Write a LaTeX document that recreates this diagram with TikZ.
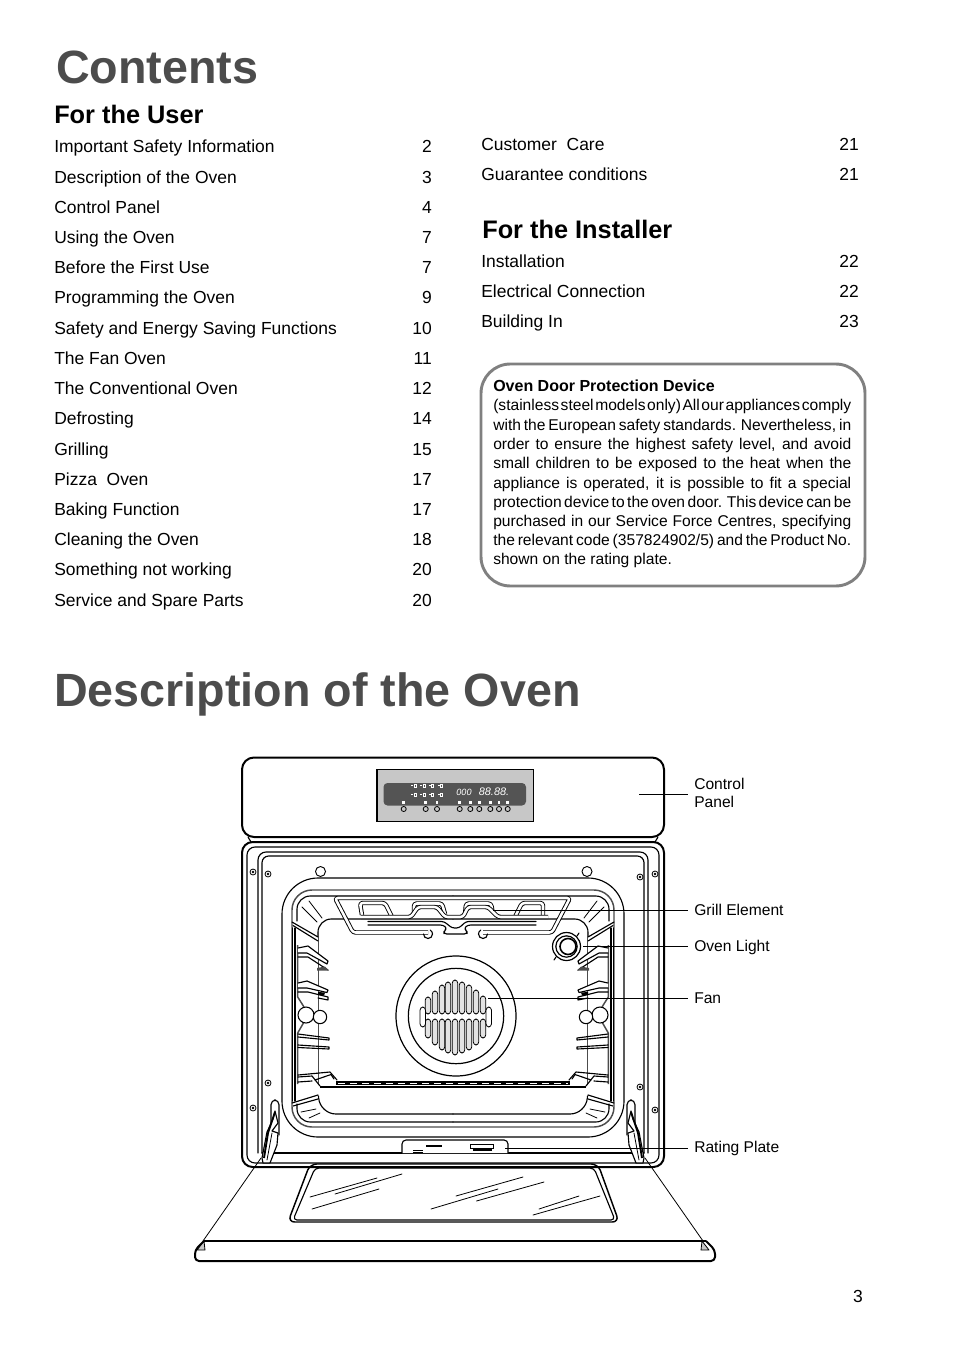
\documentclass[tikz,border=0pt]{standalone}
\usepackage{fontspec}
\usepackage{tikz}
\setmainfont{Liberation Sans}
\definecolor{mgray}{rgb}{0.3, 0.3, 0.3}
\definecolor{mframe}{rgb}{0.5, 0.5, 0.5}
\definecolor{mpanel}{rgb}{0.78, 0.78, 0.78}
\definecolor{mdark}{rgb}{0.33, 0.33, 0.33}
\newcommand{\boxline}[1]{\hbox to 268.5pt{\spaceskip=.22em plus 1fil minus .2em #1}}
\tikzset{title/.style = {anchor = base west, inner sep = 0, text = mgray, font = \fontsize{35}{40}\bfseries\selectfont}}
\tikzset{head/.style = {anchor = base west, inner sep = 0, font = \fontsize{19}{23}\bfseries\selectfont}}
\tikzset{toc/.style = {anchor = base west, inner sep = 0, font = \fontsize{13.1}{16}\selectfont}}
\tikzset{pg/.style = {anchor = base east, inner sep = 0, font = \fontsize{13.1}{16}\selectfont}}
\tikzset{boxtext/.style = {anchor = base west, inner sep = 0, font = \fontsize{11.7}{14}\selectfont}}
\tikzset{lab/.style = {anchor = west, inner xsep = 4.5pt, inner ysep = 0, text height = 8.5pt, text depth = 0pt, align = left, font = \fontsize{11.7}{13.6}\selectfont}}
\tikzset{leader/.style = {line width = 0.7pt}}
\tikzset{ln/.style = {line width = 0.85pt, line join = round, line cap = round}}
\tikzset{thin ln/.style = {line width = 0.6pt, line join = round, line cap = round}}
\tikzset{heavy/.style = {line width = 1.5pt, line join = round}}
\tikzset{tube/.style = {line width = 0.7pt, double, double distance = 1.9pt, line join = round, rounded corners = 2}}
\tikzset{screw/.style = {circle, draw, line width = 0.6pt, inner sep = 0, minimum size = 4.5pt, path picture = {\fill (path picture bounding box.center) circle (1pt);}}}
\tikzset{peg/.style = {circle, draw, line width = 0.7pt, fill = white, inner sep = 0, minimum size = 7.5pt}}
\tikzset{knob/.style = {circle, draw, line width = 0.6pt, fill = mpanel, inner sep = 0, minimum size = 3.8pt}}
\begin{document}
\begin{tikzpicture}[x = 0.75pt, y = -0.75pt]
  \useasboundingbox (0, 0) rectangle (954, 1351);

  \node (contents) [title] at (56, 84) {Contents};
  \node (foruser) [head] at (54, 124) {For the User};
  \node (description) [title] at (54, 706) {Description of the Oven};
  \node (forinstaller) [head] at (482, 239) {For the Installer};

  \foreach \n/\y/\txt/\num in {1/153/Important Safety Information/2, 2/184/Description of the Oven/3,
      3/214/Control Panel/4, 4/244/Using the Oven/7, 5/274/Before the First Use/7,
      6/304/Programming the Oven/9, 7/335/Safety and Energy Saving Functions/10, 8/364/The Fan Oven/11,
      9/394/The Conventional Oven/12, 10/424/Defrosting/14, 11/455/Grilling/15, 12/485/Pizza\ \ Oven/17,
      13/515/Baking Function/17, 14/545/Cleaning the Oven/18, 15/575/Something not working/20,
      16/606/Service and Spare Parts/20} {
    \node (user\n) [toc] at (54, \y) {\txt};
    \node (userpg\n) [pg] at (432, \y) {\num};
  }
  \foreach \n/\y/\txt/\num in {1/151/Customer\ \ Care/21, 2/181/Guarantee conditions/21,
      3/268/Installation/22, 4/298/Electrical Connection/22, 5/328/Building In/23} {
    \node (inst\n) [toc] at (481, \y) {\txt};
    \node (instpg\n) [pg] at (859, \y) {\num};
  }

  \draw [mframe, line width = 2.2pt, rounded corners = 22] (481, 364) rectangle (865, 586);
  \node (boxhead) [boxtext] at (493, 392) {\bfseries\fontsize{12}{14}\selectfont Oven Door Protection Device};
  \foreach \n/\y/\txt in {1/410/{(stainless steel models only) All our appliances comply},
      2/430/{with the European safety standards. Nevertheless, in},
      3/449/{order to ensure the highest safety level, and avoid},
      4/468/{small children to be exposed to the heat when the},
      5/488/{appliance is operated, it is possible to fit a special},
      6/507/{protection device to the oven door. This device can be},
      7/526/{purchased in our Service Force Centres, specifying},
      8/545/{the relevant code (357824902/5) and the Product No.}} {
    \node (boxline\n) [boxtext] at (493, \y) {\boxline{\txt}};
  }
  \node (boxlast) [boxtext] at (493, 564) {shown on the rating plate.};
  \node (pagenum) [pg] at (863, 1302) {3};

  % control panel
  \draw [heavy, rounded corners = 9] (242, 757.5) rectangle (664, 837);
  \draw [line width = 0.8pt, fill = mpanel] (377, 769.5) rectangle (533.5, 821.5);
  \fill [mdark, rounded corners = 3] (383.5, 783) rectangle (526, 805.5);
  \foreach \y in {785.5, 794.5} {
    \foreach \x in {411, 420, 428.5, 437.5} {
      \fill [white] (\x, \y - 0.5) rectangle (\x + 2, \y + 0.5);
      \draw [white, line width = 0.3pt] (\x + 3, \y - 1.3) rectangle (\x + 5, \y + 1.3);
    }
  }
  \node (smalldigits) [white, inner sep = 0, font = \fontsize{6.8}{7}\itshape\selectfont] at (464, 792) {000};
  \node (bigdigits) [white, inner sep = 0, font = \fontsize{8.2}{9}\itshape\selectfont] at (494, 791.5) {88.88.};
  \foreach \x in {403.7, 425.7, 437, 459.7, 470.3, 479.3, 490.3, 499, 507.7} {
    \fill [white] (\x - 1.3, 801) rectangle (\x + 1.3, 803.5);
    \node [knob] at (\x, 809) {};
  }

  \draw [heavy, rounded corners = 8] (242, 842) rectangle (664, 1167);
  \draw [ln, rounded corners = 6] (247, 847) rectangle (659, 1163);
  \draw [ln, rounded corners = 6] (258, 1153) -- (258, 852) -- (648, 852) -- (648, 1153);
  \draw [ln, rounded corners = 5] (262, 1153) -- (262, 856) -- (644, 856) -- (644, 1153);
  \draw [ln] (262, 1153) -- (644, 1153);
  \draw [ln, rounded corners = 27] (282, 878) rectangle (624, 1137);
  \draw [line width = 1.1pt, mgray, rounded corners = 15] (292, 890) -- (614, 890) -- (614, 1127) -- (292, 1127) -- cycle;

  \foreach \x/\y in {253/872, 268/874, 268/1083, 253/1108, 655/874, 640/877, 640/1087, 655/1110} {
    \node [screw] at (\x, \y) {};
  }
  \node [peg] at (320.5, 871.5) {};
  \node [peg] at (587, 871.5) {};

  % both sides of the oven
  \foreach \flip/\off in {1/0, -1/906} {
    \begin{scope} [shift = {(\off, 0)}, xscale = \flip]
      \draw [ln] (248, 837) -- (251, 842);

      \draw [ln, rounded corners = 10] (297, 921) -- (297, 896) -- (453, 896);
      \draw [ln, rounded corners = 10] (297, 1104) -- (297, 1122) -- (453, 1122);
      \draw [ln, rounded corners = 10] (453, 919) -- (318, 919) -- (318, 936);
      \draw [mgray, line width = 1pt] (318.5, 930) -- (318.5, 1085);
      \draw [ln] (292, 922) -- (318, 937);
      \draw [ln] (293, 925.5) -- (318, 941);
      \draw [thin ln] (309, 901) -- (322, 918);
      \draw [thin ln] (302, 907) -- (317, 922);

      \draw [ln] (292.3, 928) -- (292.3, 1101);
      \draw [ln] (295, 928) -- (295, 1101);
      \draw [line width = 1.1pt, mgray] (297.7, 945) -- (297.7, 997) -- (304, 1007);
      \draw [line width = 1.1pt, mgray] (304, 1022) -- (297.7, 1033) -- (297.7, 1084);

      \draw [ln, fill = white] (298, 948) -- (308, 946) -- (328, 961) -- (327, 964) -- (318, 959) -- (307, 953) -- (298, 953);
      \draw [ln] (298, 957) -- (308, 957) -- (328, 970);
      \fill [mgray] (317, 968) -- (325, 966.5) -- (329, 970.5) -- (317, 970.5) -- cycle;
      \draw [ln, fill = white] (298, 983) -- (307, 981) -- (328, 990) -- (327, 992.5) -- (307, 988) -- (298, 988);
      \draw [ln] (298, 992) -- (308, 992) -- (328, 997) -- (328, 1000) -- (318, 998);
      \fill (318, 992) -- (325, 992.5) -- (324, 995.5) -- (318, 995) -- cycle;

      \node [circle, draw, line width = 0.8pt, fill = white, inner sep = 0, minimum width = 9.5pt, minimum height = 12pt] at (306, 1015) {};
      \node [circle, draw, line width = 0.8pt, fill = white, inner sep = 0, minimum width = 8.5pt, minimum height = 10pt] at (320, 1017) {};

      \draw [ln] (298, 1034) -- (329, 1038) -- (329, 1040) -- (298, 1037);
      \draw [ln] (298, 1045) -- (329, 1047) -- (329, 1049) -- (298, 1047.5);
      \draw [ln] (298, 1075) -- (330, 1072) -- (337, 1080);
      \draw [ln] (298, 1077) -- (312, 1076) -- (320, 1086);
      \draw [ln] (298, 1082) -- (312, 1081);
      \draw [ln] (315, 1080) -- (331, 1074.5) -- (334, 1079);

      \draw [ln] (292, 1103) -- (318, 1095);
      \draw [ln] (293, 1106) -- (318, 1099);
      \draw [ln, rounded corners = 12] (318.5, 1096) -- (320, 1114) -- (453, 1114);
      \draw [thin ln] (301, 1112) -- (316, 1109);
      \draw [thin ln] (309, 1118) -- (320, 1113);

      \draw [ln, fill = white, rounded corners = 3.5] (271, 1135) -- (271, 1100) -- (279, 1100) -- (279, 1135);

      \draw [thin ln] (261, 1158) -- (203, 1241);
      \draw [thin ln, fill = mpanel] (197, 1250) -- (204, 1241) -- (205, 1250) -- cycle;
    \end{scope}
  }

  % shelf
  \fill (336, 1080.5) rectangle (570, 1085);
  \draw [white, line width = 0.7pt, dash pattern = on 5pt off 4pt] (338, 1083) -- (568, 1083);
  \draw [heavy] (320, 1087) -- (586, 1087);

  % fan
  \node (fan) [circle, draw, line width = 0.9pt, inner sep = 0, minimum size = 90pt] at (456, 1016) {};
  \node (fanhub) [circle, draw, line width = 0.9pt, inner sep = 0, minimum size = 71.5pt] at (456, 1016) {};
  \foreach \x/\ytop/\ybot in {428/997/1038, 435/991/1045, 442/985/1050, 448/982/1053, 455/980/1055,
      462/982/1053, 469/985/1050, 476/990/1045, 483/996/1038} {
    \draw [thin ln, fill = mpanel!50, rounded corners = 2.4] (\x - 2.8, \ytop) rectangle (\x + 2.8, 1014);
    \draw [thin ln, fill = mpanel!50, rounded corners = 2.4] (\x - 2.8, 1019) rectangle (\x + 2.8, \ybot);
  }
  \draw [thin ln, fill = white, rounded corners = 2.4] (420, 1007) rectangle (425.5, 1027);
  \draw [thin ln, fill = white, rounded corners = 2.4] (486, 1007) rectangle (491.5, 1027);

  % grill element
  \draw [tube] (428, 932.5) -- (353, 932.5) -- (335, 898) -- (570, 898) -- (552, 932.5) -- (483, 932.5);
  \draw [ln] (423.5, 934) arc (180:-60:4.5);
  \draw [ln] (487.5, 934) arc (0:240:4.5);
  \draw [tube] (362, 915) -- (360, 903) -- (385, 903) -- (392, 917);
  \draw [tube] (414, 915) -- (414, 903.5) -- (442, 903.5) -- (445, 914);
  \draw [tube] (465, 915) -- (466, 903.5) -- (491, 903.5) -- (493, 914);
  \draw [tube] (515, 917) -- (522, 903) -- (543, 903) -- (543, 917);
  \draw [tube, fill = white] (361, 917) -- (411, 917) -- (418, 907) -- (437, 907) -- (445, 917) -- (463, 917) -- (468, 907) -- (488, 907) -- (498, 917) -- (548, 917);
  \draw [ln, rounded corners = 2] (368, 921.5) -- (444, 921.5) -- (452, 928) -- (459, 928) -- (466, 921.5) -- (536, 921.5);
  \draw [ln, rounded corners = 2] (368, 925) -- (443, 925) -- (447, 928) -- (444, 931) -- (444, 934) -- (467, 934) -- (467, 931) -- (464, 928) -- (468, 925) -- (536, 925);

  % oven light
  \node (lamp) [circle, draw, line width = 0.9pt, fill = white, inner sep = 0, minimum size = 21pt] at (566.5, 946.5) {};
  \node (lampring) [circle, draw, line width = 0.9pt, inner sep = 0, minimum size = 16pt] at (566.5, 946.5) {};
  \node (lampcap) [circle, draw, line width = 1.2pt, inner sep = 0, minimum size = 12pt] at (568, 946.5) {};
  \draw [ln] (556, 957) -- (554, 960);
  \draw [ln] (577, 936) -- (579, 933);

  % rating plate
  \draw [ln, rounded corners = 3, fill = white] (402, 1153) -- (402, 1140) -- (508, 1140) -- (508, 1153);
  \draw [line width = 1.2pt] (426, 1146) -- (442, 1146);
  \draw [line width = 0.6pt] (413, 1150) -- (423, 1150);
  \draw [line width = 0.6pt] (413, 1152) -- (423, 1152);
  \draw [line width = 0.6pt] (470.5, 1144) rectangle (493, 1148);
  \draw [line width = 1.4pt] (473, 1150) -- (492, 1150);

  % door
  \draw [heavy, rounded corners = 3] (204, 1241) -- (195, 1250) -- (195, 1261) -- (715, 1261) -- (715, 1250) -- (706, 1241);
  \draw [ln] (204, 1241) -- (706, 1241);
  \draw [line width = 1.1pt, rounded corners = 5] (310, 1164) -- (598, 1164) -- (619, 1222) -- (288, 1222) -- cycle;
  \draw [ln, rounded corners = 3] (315, 1168) -- (594, 1168) -- (615, 1220) -- (293, 1220) -- cycle;
  \foreach \xa/\ya/\xb/\yb in {310/1197/377/1178, 335/1194/402/1174, 312/1209/379/1189, 456/1196/523/1177,
      476.5/1201/544/1182, 431/1209/498/1189, 539/1209/579/1196, 533/1215/600/1196} {
    \draw [thin ln] (\xa, \ya) -- (\xb, \yb);
  }

  % hinges
  \foreach \flip/\off in {1/0, -1/906} {
    \begin{scope} [shift = {(\off, 0)}, xscale = \flip]
      \draw [ln, fill = white] (275, 1111) -- (278, 1123) -- (272, 1131) -- (278, 1133) -- (277, 1145) -- (270, 1163) -- (263, 1163) -- (262, 1158) -- (267, 1132) -- (273, 1119) -- cycle;
      \draw [line width = 1.4pt] (275, 1112) -- (268, 1133) -- (264, 1158);
      \draw [thin ln] (272, 1133) -- (267, 1160);
    \end{scope}
  }

  % labels
  \coordinate (panelend) at (639, 794);
  \coordinate (grillend) at (493, 910);
  \coordinate (lightend) at (583, 946.5);
  \coordinate (fanend) at (488, 998);
  \coordinate (plateend) at (505, 1148);
  \node (panellabel) [lab] at (688, 801.5) {Control\\Panel};
  \node (grilllabel) [lab] at (688, 910) {Grill Element};
  \node (lightlabel) [lab] at (688, 946) {Oven Light};
  \node (fanlabel) [lab] at (688, 997.5) {Fan};
  \node (platelabel) [lab] at (688, 1147) {Rating Plate};
  \draw [leader] (panelend) -- (688, 794);
  \draw [leader] (grillend) -- (688, 910);
  \draw [leader] (lightend) -- (688, 946.5);
  \draw [leader] (fanend) -- (688, 998);
  \draw [leader] (plateend) -- (688, 1148);
\end{tikzpicture}
\end{document}
